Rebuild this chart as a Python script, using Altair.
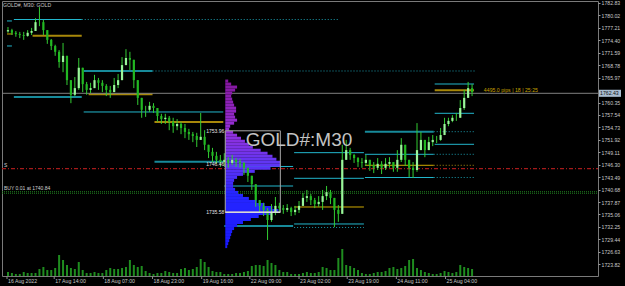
import altair as alt
import pandas as pd

# ---------------- data (M30 candles, one entry per sampled bar) ----------------
first_open = 1776.4
closes = [1776.7,1776.1,1775.8,1775.6,1775.4,1776.1,1776.5,1778.5,1778.5,1776.7,
          1774.5,1773.1,1771.8,1769.5,1770.9,1765.4,1762.1,1763.6,1768.2,1764.5,
          1763.2,1763.6,1765.4,1764.8,1764.1,1763.2,1762.7,1764.3,1765.4,1768.8,
          1770.4,1770.0,1765.4,1761.4,1758.7,1758.7,1759.6,1759.1,1757.3,1756.6,
          1756.9,1756.0,1755.0,1755.5,1754.6,1753.7,1753.2,1752.8,1751.9,1752.6,
          1750.8,1749.2,1748.3,1747.4,1746.9,1747.4,1746.7,1747.4,1746.9,1746.7,
          1745.6,1743.8,1741.9,1738.3,1737.0,1736.1,1733.8,1735.6,1737.0,1736.5,
          1736.1,1736.5,1735.6,1736.1,1737.0,1738.8,1739.2,1738.3,1737.4,1737.9,
          1739.2,1740.1,1738.8,1736.1,1735.2,1747.4,1749.6,1748.5,1747.8,1746.9,
          1746.7,1747.4,1746.2,1745.6,1746.5,1745.6,1746.5,1746.9,1745.6,1747.4,
          1750.8,1747.4,1745.6,1745.1,1749.6,1751.9,1749.6,1751.4,1751.9,1751.9,
          1753.0,1755.5,1756.2,1756.9,1756.9,1759.1,1761.4,1763.6,1762.7]
highs = [1777.4,1777.0,1776.5,1776.3,1776.3,1776.7,1777.2,1779.4,1781.9,1779.0,
         1776.3,1774.7,1773.4,1772.2,1773.8,1770.0,1765.4,1766.1,1770.4,1767.2,
         1765.0,1764.8,1766.6,1765.9,1765.4,1764.5,1764.1,1765.9,1766.8,1770.6,
         1772.4,1771.8,1768.6,1764.5,1761.4,1759.6,1760.5,1760.2,1759.1,1757.8,
         1757.8,1757.3,1756.9,1756.6,1756.0,1755.5,1754.4,1753.7,1753.5,1758.0,
         1754.1,1750.8,1750.1,1749.2,1748.5,1748.9,1748.0,1748.5,1747.8,1747.6,
         1746.9,1745.6,1743.8,1741.5,1738.3,1737.7,1736.5,1737.4,1739.0,1737.7,
         1737.2,1737.4,1736.8,1737.0,1738.1,1739.9,1740.6,1739.7,1738.8,1739.2,
         1740.6,1741.5,1740.6,1738.8,1737.2,1750.8,1751.9,1750.1,1748.7,1748.0,
         1747.8,1748.5,1747.4,1746.9,1747.8,1747.1,1747.8,1748.0,1746.9,1749.6,
         1752.3,1750.1,1747.4,1746.9,1755.7,1753.7,1751.2,1752.6,1753.0,1752.8,
         1754.6,1756.9,1756.9,1757.5,1758.0,1760.9,1763.2,1765.0,1764.5]
lows = [1776.1,1775.6,1775.2,1774.9,1774.5,1775.2,1775.6,1776.5,1777.6,1775.6,
        1773.6,1772.2,1770.9,1768.2,1767.2,1764.3,1760.2,1761.8,1763.2,1762.7,
        1762.1,1762.5,1764.1,1763.2,1762.7,1761.8,1761.4,1762.7,1763.6,1767.2,
        1769.1,1767.7,1763.6,1759.8,1756.9,1757.1,1758.2,1758.0,1756.0,1755.5,
        1755.5,1754.1,1753.5,1754.1,1753.2,1752.3,1751.9,1751.4,1750.3,1751.9,
        1749.6,1747.8,1746.9,1746.5,1745.8,1746.0,1745.6,1746.2,1745.8,1745.6,
        1744.0,1742.4,1740.6,1736.8,1735.4,1734.7,1729.3,1733.4,1734.9,1735.4,
        1735.2,1735.6,1734.7,1734.9,1735.4,1737.4,1737.9,1737.2,1736.5,1736.8,
        1736.1,1738.3,1737.4,1732.2,1733.4,1735.2,1748.0,1747.4,1746.7,1745.8,
        1745.6,1746.0,1744.9,1744.4,1745.1,1744.2,1745.1,1745.6,1744.7,1744.7,
        1746.9,1746.0,1743.5,1743.3,1744.7,1749.6,1748.0,1749.6,1750.5,1751.2,
        1751.7,1754.1,1755.0,1755.9,1756.2,1757.1,1758.7,1761.8,1761.8]
volumes = [800,600,400,400,800,600,600,600,1400,1800,
           1200,1200,1600,4200,3200,2200,1600,1400,2800,1200,
           600,600,800,600,600,1200,1600,1400,1400,1600,
           1800,3200,2200,1800,2000,1000,600,400,600,600,
           1000,800,600,600,1400,1600,1200,1400,1800,3400,
           2800,1800,1000,800,800,400,400,400,600,600,
           800,1000,2000,2200,2200,2000,3200,2600,2200,1200,
           800,800,400,400,400,600,800,600,600,800,
           1800,1600,1200,1200,3600,5400,2200,2000,1600,1200,
           600,400,400,600,800,800,1000,1600,1800,1400,
           1600,2000,3200,3400,1600,1200,800,600,400,400,
           600,1000,800,600,800,2200,1800,1600,1400]

# price scale labels (1763.16 sits under the bid-price box, so it is not drawn)
price_ticks = [1782.83,1780.02,1777.21,1774.40,1771.59,1768.78,1765.97,
               1760.35,1757.54,1754.73,1751.92,1749.11,1746.30,1743.49,1740.68,
               1737.87,1735.06,1732.25,1729.44,1726.63,1723.82]
time_labels = ['16 Aug 2022','17 Aug 14:00','18 Aug 07:00','18 Aug 23:00','19 Aug 16:00',
               '22 Aug 09:00','23 Aug 02:00','23 Aug 19:00','24 Aug 11:00','25 Aug 04:00']
time_pos = [-0.25, 11.75, 24.25, 36.75, 49.25, 61.5, 74.0, 86.25, 98.75, 111.25]

# volume profile of the session
profile_levels = [1765.20,1764.52,1763.84,1763.16,1762.48,1761.80,1761.12,1760.44,1759.76,1759.08,
                  1758.40,1757.72,1757.04,1756.36,1755.68,1755.00,1754.32,1753.64,1752.96,1752.28,
                  1751.60,1750.92,1750.24,1749.56,1748.88,1748.20,1747.52,1746.84,1746.16,1745.48,
                  1744.80,1744.12,1743.44,1742.76,1742.08,1741.40,1740.72,1740.04,1739.36,1738.68,
                  1738.00,1737.32,1736.64,1735.96,1735.28,1734.60,1733.92,1733.24,1732.56,1731.88,
                  1731.20,1730.52,1729.84,1729.16,1728.48,1727.80]
profile_vols = [30,60,120,100,70,60,70,80,90,110,
                110,90,100,120,90,50,40,80,120,160,
                200,240,280,360,430,480,520,560,560,460,
                300,180,120,90,80,80,100,130,180,240,
                320,400,480,540,460,340,260,180,120,90,
                70,60,50,40,30,20]
profile_start = 55.25
va_box = [55.25, 69.25, 1735.58, 1753.96]
profile_labels = ['1753.96', '1746.46', '1735.58']
profile_label_prices = [1753.96, 1746.46, 1735.58]

bid = 1762.43
sell_level = 1745.40
buy_levels = [1740.20, 1739.85]

# level segments: (start bar, end bar, price)
cyan_thin = [(-0.25, 1, 1778.77), (-0.25, 1, 1773.12), (1.5, 18.75, 1779.10),
             (19.25, 54.75, 1758.21), (55, 72.5, 1745.90), (55, 72.5, 1741.49),
             (72.75, 90.5, 1749.02), (72.75, 90.5, 1743.23), (72.75, 90.5, 1732.91),
             (90.75, 108.25, 1748.65), (90.75, 108.25, 1743.41),
             (108.5, 118.5, 1764.53), (108.5, 118.5, 1757.91), (108.5, 118.5, 1750.91)]
teal_thick = [(1.5, 18.75, 1761.60), (19.25, 36.75, 1767.47), (37.25, 54.75, 1746.98),
              (55, 72.5, 1732.46), (90.75, 108.25, 1753.76)]
gold_thin = [(-0.25, 1.25, 1775.83), (72.75, 90.5, 1736.75), (90.75, 108.25, 1746.17)]
gold_thick = [(6.25, 18.75, 1775.45), (20.5, 36.75, 1762.21), (37.25, 54.75, 1755.95),
              (108.5, 118.5, 1763.11)]
cyan_dotted = [(18.75, 84.25, 1779.10), (36.75, 118.75, 1767.47), (108.25, 118.75, 1753.76),
               (108.25, 118.75, 1748.65), (108.25, 118.75, 1743.41), (72.75, 90.5, 1732.12)]
gold_dotted = [(108.25, 118.75, 1746.17)]

info_text = '4495.0 pips | 18 | 25:25'
info_pos = (121.0, 1763.11)

# ---------------- chart ----------------
W, H = 596, 275
XS = alt.Scale(domain=[-0.25, 148.75], nice=False, zero=False)
YS = alt.Scale(domain=[1721.16, 1783.28], nice=False, zero=False)
FONT = 'Liberation Sans'

price_axis = alt.Axis(orient='right', values=price_ticks, format='.2f', labelFontSize=5.2,
                      labelFont=FONT, labelColor='#c8c8c8', tickColor='#9a9a9a', tickSize=2,
                      domain=False, grid=False, labelPadding=1, title=None,
                      labelOverlap=False, labelFlush=False)


def PX(field):
    return alt.X(field, scale=XS, axis=None)


def PY(field):
    return alt.Y(field, scale=YS, axis=price_axis, title=None)


n = len(closes)
opens = [first_open] + closes[:-1]
candles = pd.DataFrame({'i': list(range(n)), 'open': opens, 'close': closes,
                        'high': highs, 'low': lows, 'vol': volumes})
candles['high'] = candles[['high', 'open', 'close']].max(axis=1)
candles['low'] = candles[['low', 'open', 'close']].min(axis=1)
candles['dir'] = ['up' if c >= o else 'down' for o, c in zip(candles['open'], candles['close'])]


def seg_layer(rows, color, width, dash=None):
    df = pd.DataFrame(rows, columns=['x1', 'x2', 'p'])
    kw = dict(color=color, strokeWidth=width)
    if dash:
        kw['strokeDash'] = dash
    return alt.Chart(df).mark_rule(**kw).encode(x=PX('x1:Q'), x2='x2:Q', y=PY('p:Q'))


def full_line(prices, color, width, dash=None):
    df = pd.DataFrame({'p': prices})
    kw = dict(color=color, strokeWidth=width)
    if dash:
        kw['strokeDash'] = dash
    return alt.Chart(df).mark_rule(**kw).encode(x=alt.value(0), x2=alt.value(W), y=PY('p:Q'))


layers = []
layers.append(seg_layer(cyan_dotted, '#1a9aab', 1, [1, 2]))
layers.append(seg_layer(gold_dotted, '#b09010', 1, [1, 2]))
layers.append(seg_layer(cyan_thin, '#22b6cc', 1))
layers.append(seg_layer(teal_thick, '#178a9a', 2))
layers.append(seg_layer(gold_thin, '#d0aa00', 1))
layers.append(seg_layer(gold_thick, '#a8880a', 2))
layers.append(full_line([bid], '#808080', 1))
layers.append(full_line([sell_level], '#a51a1a', 1.3, [4, 2, 1, 2]))
layers.append(full_line(buy_levels, '#1f7a1f', 1, [1, 1]))

# volume profile
prof = pd.DataFrame({'level': profile_levels, 'vol': profile_vols})
prof['top'] = prof['level'] + 0.34
prof['bot'] = prof['level'] - 0.34
prof['x0'] = profile_start
prof['x1'] = profile_start + prof['vol'] / 40.0
layers.append(alt.Chart(prof).mark_rect().encode(
    x=PX('x0:Q'), x2='x1:Q', y=PY('top:Q'), y2='bot:Q',
    color=alt.Color('level:Q', legend=None,
                    scale=alt.Scale(domain=[1728, 1740, 1747, 1754, 1765],
                                    range=['#1818ff', '#2626ff', '#6236f2', '#9430d8', '#84169e']))))

# candles
layers.append(alt.Chart(candles).mark_rule(color='#33cc33', strokeWidth=1).encode(
    x=PX('i:Q'), y=PY('low:Q'), y2='high:Q'))
layers.append(alt.Chart(candles).mark_rule(strokeWidth=2.2).encode(
    x=PX('i:Q'), y=PY('open:Q'), y2='close:Q',
    color=alt.Color('dir:N', legend=None,
                    scale=alt.Scale(domain=['up', 'down'], range=['#9af59a', '#22b822']))))

# value-area box and its labels
box = pd.DataFrame({'x0': [va_box[0]], 'x1': [va_box[1]], 'lo': [va_box[2]], 'hi': [va_box[3]]})
layers.append(alt.Chart(box).mark_rect(fillOpacity=0, stroke='#a8a8a8', strokeWidth=1).encode(
    x=PX('x0:Q'), x2='x1:Q', y=PY('lo:Q'), y2='hi:Q'))
layers.append(alt.Chart(box).mark_rule(color='#d8d8d8', strokeWidth=1.5).encode(
    x=PX('x0:Q'), x2='x1:Q', y=PY('lo:Q')))
plab = pd.DataFrame({'p': profile_label_prices, 't': profile_labels, 'x': profile_start})
layers.append(alt.Chart(plab).mark_text(align='right', baseline='middle', dx=-1, fontSize=5,
                                         font=FONT, color='#e6e6e6').encode(
    x=PX('x:Q'), y=PY('p:Q'), text='t:N'))

# order labels
orders = pd.DataFrame({'p': [sell_level, buy_levels[0]], 't': ['S', 'BUY 0.01 at 1740.84']})
layers.append(alt.Chart(orders).mark_text(align='left', baseline='bottom', dx=2, dy=-1,
                                           fontSize=5, font=FONT, color='#d0d0d0').encode(
    x=alt.value(0), y=PY('p:Q'), text='t:N'))

# info text
info = pd.DataFrame({'x': [info_pos[0]], 'p': [info_pos[1]], 't': [info_text]})
layers.append(alt.Chart(info).mark_text(align='left', baseline='middle', fontSize=5.2,
                                         font=FONT, color='#c8a000').encode(
    x=PX('x:Q'), y=PY('p:Q'), text='t:N'))

# bid price box on the axis
bidbox = pd.DataFrame({'hi': [bid + 0.8], 'lo': [bid - 0.8], 'p': [bid], 't': [f'{bid:.2f}']})
layers.append(alt.Chart(bidbox).mark_rect(color='#a9bccf').encode(
    x=alt.value(W + 1), x2=alt.value(W + 23), y=PY('hi:Q'), y2='lo:Q'))
layers.append(alt.Chart(bidbox).mark_text(align='left', baseline='middle', fontSize=5.2,
                                           font=FONT, color='#101010').encode(
    x=alt.value(W + 2), y=PY('p:Q'), text='t:N'))

# time axis
tdf = pd.DataFrame({'pos': time_pos, 'label': time_labels})
layers.append(alt.Chart(tdf).mark_rule(color='#8a8a8a').encode(
    x=PX('pos:Q'), y=alt.value(H), y2=alt.value(H + 3)))
layers.append(alt.Chart(tdf).mark_text(align='left', baseline='middle', dx=1, fontSize=5.2,
                                        font=FONT, color='#c8c8c8').encode(
    x=PX('pos:Q'), y=alt.value(H + 5), text='label:N'))

# titles
layers.append(alt.Chart(pd.DataFrame({'t': ['GOLD#, M30: GOLD']})).mark_text(
    align='left', baseline='middle', fontSize=5.2, font=FONT, color='#c8c8c8').encode(
    x=alt.value(1), y=alt.value(4), text='t:N'))
layers.append(alt.Chart(pd.DataFrame({'t': ['GOLD#:M30']})).mark_text(
    align='center', baseline='middle', fontSize=19, font=FONT, color='#c4c4c4').encode(
    x=alt.value(297), y=alt.value(139), text='t:N'))

price_chart = alt.layer(*layers)

vol_chart = alt.Chart(candles).mark_bar(size=2, color='#1f8c1f').encode(
    x=PX('i:Q'),
    y=alt.Y('vol:Q', scale=alt.Scale(domain=[0, 55000], nice=False), axis=None))

chart = alt.layer(vol_chart, price_chart).resolve_scale(y='independent', color='independent').properties(
    width=W, height=H, background='black',
    padding={'left': 2, 'top': 1, 'right': 27, 'bottom': 10},
    autosize=alt.AutoSizeParams(type='none')
).configure_view(stroke='#7a7a7a', strokeWidth=1)

chart.save('out.html', embed_options={'renderer': 'svg', 'actions': False})
